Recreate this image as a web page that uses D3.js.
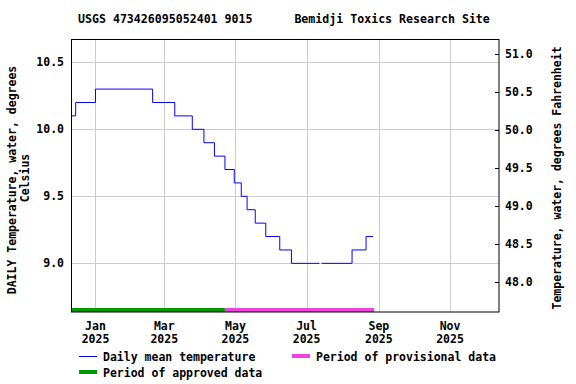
<!DOCTYPE html>
<html>
<head>
<meta charset="utf-8">
<script src="https://cdn.jsdelivr.net/npm/d3@7"></script>
<style>
  body { margin: 0; background: #fff; }
  text { font-family: "DejaVu Sans Mono", monospace; font-weight: bold; font-size: 11.5px; fill: #000; }
</style>
</head>
<body>
<div class="graphHere"></div>
<script>
// step points of the daily mean series (value holds until next date)
var stepDates = ["2024-12-11", "2024-12-15", "2025-01-01", "2025-02-19", "2025-03-10", "2025-03-25",
  "2025-04-04", "2025-04-13", "2025-04-22", "2025-04-30", "2025-05-06", "2025-05-11", "2025-05-18",
  "2025-05-27", "2025-06-08", "2025-06-18", "2025-07-12", "2025-07-13", "2025-07-14", "2025-08-09",
  "2025-08-21", "2025-08-27"];
var stepValues = [10.1, 10.2, 10.3, 10.2, 10.1, 10.0,
  9.9, 9.8, 9.7, 9.6, 9.5, 9.4, 9.3,
  9.2, 9.1, 9.0, 9.0, null, 9.0, 9.1,
  9.2, 9.2];

var approvedPeriod = ["2024-12-11", "2025-04-22"];
var provisionalPeriod = ["2025-04-22", "2025-08-28"];

var leftTicks = [9.0, 9.5, 10.0, 10.5];
var rightTicks = [48.0, 48.5, 49.0, 49.5, 50.0, 50.5, 51.0];
var monthTicks = ["2025-01-01", "2025-03-01", "2025-05-01", "2025-07-01", "2025-09-01", "2025-11-01"];

var titleText = "USGS 473426095052401 9015      Bemidji Toxics Research Site";

var parse = d3.timeParse("%Y-%m-%d");

var dims = { width: 576, height: 384 };
var plot = { left: 71, right: 499, top: 39.5, bottom: 312 };

var svg = d3.select(".graphHere").append("svg")
  .attr("width", dims.width)
  .attr("height", dims.height);

var x = d3.scaleTime()
  .domain([parse("2024-12-11"), parse("2025-12-13")])
  .range([plot.left, plot.right]);
var y = d3.scaleLinear()
  .domain([8.637, 10.670])
  .range([plot.bottom, plot.top]);
var yF = d3.scaleLinear()
  .domain([47.61, 51.186])
  .range([plot.bottom, plot.top]);

// grid
svg.append("g").selectAll("line").data(leftTicks).enter().append("line")
  .attr("x1", plot.left).attr("x2", plot.right)
  .attr("y1", function(d){ return Math.round(y(d)) + 0.5; })
  .attr("y2", function(d){ return Math.round(y(d)) + 0.5; })
  .attr("stroke", "#cccccc");
svg.append("g").selectAll("line").data(monthTicks).enter().append("line")
  .attr("x1", function(d){ return Math.round(x(parse(d))) + 0.5; })
  .attr("x2", function(d){ return Math.round(x(parse(d))) + 0.5; })
  .attr("y1", plot.top).attr("y2", plot.bottom)
  .attr("stroke", "#cccccc");

// data line
var pts = stepDates.map(function(d, i){ return { date: parse(d), value: stepValues[i] }; });
var line = d3.line()
  .defined(function(d){ return d.value != null; })
  .x(function(d){ return x(d.date); })
  .y(function(d){ return y(d.value); })
  .curve(d3.curveStepAfter);
svg.append("path")
  .datum(pts)
  .attr("d", line)
  .attr("fill", "none")
  .attr("stroke", "#0000ff")
  .attr("stroke-width", 1);

// approval bars
svg.append("rect")
  .attr("x", x(parse(approvedPeriod[0]))).attr("y", plot.bottom - 4)
  .attr("width", x(parse(approvedPeriod[1])) - x(parse(approvedPeriod[0])))
  .attr("height", 4).attr("fill", "#009900");
svg.append("rect")
  .attr("x", x(parse(provisionalPeriod[0]))).attr("y", plot.bottom - 4)
  .attr("width", x(parse(provisionalPeriod[1])) - x(parse(provisionalPeriod[0])))
  .attr("height", 4).attr("fill", "#ee44dd");

// frame
svg.append("rect")
  .attr("x", plot.left + 0.5).attr("y", plot.top)
  .attr("width", plot.right - plot.left - 0.5).attr("height", plot.bottom - plot.top)
  .attr("fill", "none").attr("stroke", "#000").attr("stroke-width", 1);

// left axis labels
svg.append("g").selectAll("text").data(leftTicks).enter().append("text")
  .attr("x", 64).attr("y", function(d){ return y(d) + 4; })
  .attr("text-anchor", "end")
  .text(function(d){ return d.toFixed(1); });

// right axis ticks + labels
var rg = svg.append("g");
rg.selectAll("line").data(rightTicks).enter().append("line")
  .attr("x1", plot.right - 4).attr("x2", plot.right)
  .attr("y1", function(d){ return Math.round(yF(d)) + 0.5; })
  .attr("y2", function(d){ return Math.round(yF(d)) + 0.5; })
  .attr("stroke", "#000");
rg.selectAll("text").data(rightTicks).enter().append("text")
  .attr("x", 505).attr("y", function(d){ return yF(d) + 4; })
  .text(function(d){ return d.toFixed(1); });

// x labels
var fmtM = d3.timeFormat("%b"), fmtY = d3.timeFormat("%Y");
var xg = svg.append("g").selectAll("g").data(monthTicks).enter().append("g");
xg.append("text")
  .attr("x", function(d){ return x(parse(d)); }).attr("y", 330)
  .attr("text-anchor", "middle").text(function(d){ return fmtM(parse(d)); });
xg.append("text")
  .attr("x", function(d){ return x(parse(d)); }).attr("y", 343)
  .attr("text-anchor", "middle").text(function(d){ return fmtY(parse(d)); });

// axis titles
svg.append("text")
  .attr("transform", "translate(16,180) rotate(-90)")
  .attr("text-anchor", "middle")
  .text("DAILY Temperature, water, degrees");
svg.append("text")
  .attr("transform", "translate(29,178) rotate(-90)")
  .attr("text-anchor", "middle")
  .text("Celsius");
svg.append("text")
  .attr("transform", "translate(561,178) rotate(-90)")
  .attr("text-anchor", "middle")
  .text("Temperature, water, degrees Fahrenheit");

// title
svg.append("text")
  .attr("x", 78).attr("y", 23)
  .attr("xml:space", "preserve")
  .style("white-space", "pre")
  .style("font-size", "11.6px")
  .text(titleText);

// legend
svg.append("line").attr("x1", 79).attr("x2", 97).attr("y1", 356.5).attr("y2", 356.5)
  .attr("stroke", "#0000ff");
svg.append("text").attr("x", 103).attr("y", 361).text("Daily mean temperature");
svg.append("rect").attr("x", 292).attr("y", 354).attr("width", 18).attr("height", 4).attr("fill", "#ee44dd");
svg.append("text").attr("x", 316).attr("y", 361).text("Period of provisional data");
svg.append("rect").attr("x", 79).attr("y", 370).attr("width", 18).attr("height", 4).attr("fill", "#009900");
svg.append("text").attr("x", 103).attr("y", 377).text("Period of approved data");
</script>
</body>
</html>
